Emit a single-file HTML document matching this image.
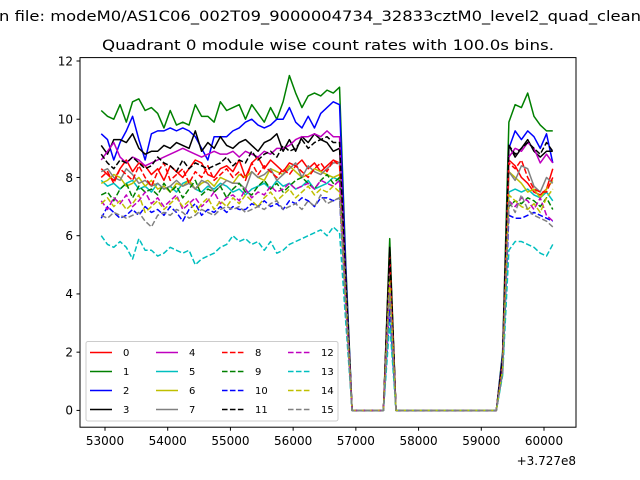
<!DOCTYPE html>
<html><head><meta charset="utf-8"><style>
html,body{margin:0;padding:0;background:#fff;}
svg{display:block;font-family:"DejaVu Sans","Liberation Sans",sans-serif;}
</style></head><body>
<svg id="chart" width="640" height="480" viewBox="0 0 640 480">
<text x="-1" y="21" font-size="14" textLength="642" lengthAdjust="spacingAndGlyphs">n file: modeM0/AS1C06_002T09_9000004734_32833cztM0_level2_quad_clean</text>
<text x="328" y="50" font-size="14" text-anchor="middle" textLength="452" lengthAdjust="spacingAndGlyphs">Quadrant 0 module wise count rates with 100.0s bins.</text>
<clipPath id="clip"><rect x="80" y="57.6" width="496" height="369.6"/></clipPath>
<g id="series" clip-path="url(#clip)"></g>
<rect x="80" y="57.6" width="496" height="369.6" fill="none" stroke="#000" stroke-width="1"/>
<g id="axes"></g>
<text x="576" y="465" font-size="12" text-anchor="end">+3.727e8</text>
<g id="legend"></g>
</svg>
<script>
const startTime = 52940;
const stepTime = 100;
const xTicks = [53000,54000,55000,56000,57000,58000,59000,60000];
const yTicks = [0,2,4,6,8,10,12];
const seriesNames = ["0","1","2","3","4","5","6","7","8","9","10","11","12","13","14","15"];
const Z = [0,0,0,0,0,0];
const Z17 = [0,0,0,0,0,0,0,0,0,0,0,0,0,0,0,0,0];
const s0 = [8.3,8.1,7.9,8.3,8.6,8.2,8.5,8.4,8.1,8.3,7.9,8.4,8.2,8.0,8.3,8.6,8.5,8.1,8.0,8.3,8.4,8.2,8.6,8.0,8.5,8.7,8.3,8.6,8.4,8.2,8.5,8.4,8.6,8.3,8.5,8.2,8.4,8.6,8.5, 4.2,...Z,5.6,...Z17,1.6, 8.6,8.4,8.0,7.8,7.5,7.4,7.6,8.3];
const s1 = [10.3,10.1,10.0,10.5,9.9,10.6,10.7,10.3,10.4,10.2,9.7,10.3,9.8,9.9,9.8,10.5,10.1,10.1,9.9,10.6,10.3,10.4,10.5,10.0,10.5,10.2,9.9,10.4,10.0,10.6,11.5,10.9,10.4,10.8,10.9,10.8,11.0,10.9,11.1, 5.0,...Z,5.9,...Z17,2.0, 9.9,10.5,10.4,10.9,10.1,9.8,9.6,9.6];
const s2 = [9.5,9.3,8.6,9.2,9.6,10.1,9.3,8.6,9.5,9.6,9.6,9.7,9.6,9.7,9.6,9.4,9.0,8.6,9.4,9.4,9.4,9.6,9.7,9.9,10.0,9.8,9.7,9.8,10.0,10.0,10.4,9.9,9.7,10.1,9.7,10.2,10.4,10.6,10.5, 4.8,...Z,5.2,...Z17,1.9, 9.0,9.6,9.3,9.6,9.4,9.0,9.5,8.5];
const s3 = [9.1,8.8,9.3,9.3,9.2,9.5,9.0,8.8,8.9,8.9,9.1,9.0,9.2,9.1,9.0,9.6,8.9,9.2,9.0,9.4,9.1,9.0,9.2,9.3,9.1,8.9,9.2,9.3,9.5,8.9,9.3,8.9,9.4,9.2,9.5,9.3,9.2,8.9,9.0, 4.5,...Z,5.6,...Z17,1.8, 9.1,8.7,9.0,9.3,8.9,8.7,8.9,8.9];
const s4 = [8.6,8.9,9.2,8.7,8.5,8.7,8.6,8.4,8.5,8.6,8.7,8.8,8.9,9.0,8.9,8.8,8.7,8.8,8.9,8.8,8.8,8.9,8.7,8.9,8.8,8.7,8.9,8.8,9.0,9.0,9.1,9.3,9.4,9.4,9.5,9.4,9.6,9.4,9.4, 4.3,...Z,5.0,...Z17,1.7, 8.7,9.0,8.9,9.2,9.0,8.5,8.8,8.5];
const s5 = [7.9,7.7,7.8,7.6,7.8,7.9,7.6,7.7,7.5,7.8,7.6,7.7,7.5,7.8,7.9,7.6,7.5,7.7,7.6,7.8,7.7,7.5,7.6,7.4,7.6,7.7,7.8,7.6,7.9,7.7,7.8,7.6,7.7,7.9,7.6,7.7,7.8,8.0,7.9, 3.9,...Z,4.3,...Z17,1.5, 7.5,7.6,7.5,7.6,7.4,7.3,7.5,7.2];
const s6 = [7.8,7.9,8.1,8.0,7.7,7.8,8.0,7.7,7.9,7.6,7.7,7.5,7.8,7.7,7.9,7.6,7.8,7.9,7.7,8.0,7.9,7.8,8.1,8.0,8.2,8.0,7.9,8.3,8.2,8.1,8.4,8.2,8.0,8.1,8.3,8.2,8.1,8.0,8.1, 4.0,...Z,4.6,...Z17,1.6, 8.2,8.0,7.8,7.5,7.6,7.3,7.6,7.9];
const s7 = [8.2,8.3,8.0,7.9,8.3,8.1,7.8,7.9,7.7,7.8,7.6,7.7,7.9,7.7,7.8,7.6,7.9,7.8,7.5,7.7,7.9,7.8,7.8,7.6,8.2,8.0,8.1,8.3,7.9,8.1,8.3,8.5,8.0,8.4,8.2,8.1,8.3,8.5,8.5, 4.1,...Z,4.8,...Z17,1.6, 8.2,7.9,8.4,8.3,7.7,7.5,8.0,7.8];
const s8 = [8.0,8.2,7.8,8.3,8.1,7.9,8.4,8.0,7.7,8.2,8.5,7.9,8.1,8.3,7.8,8.2,8.0,8.4,7.9,8.1,8.3,8.0,8.2,7.9,8.5,8.1,8.4,8.2,8.0,8.3,8.1,8.4,8.2,8.0,8.3,8.5,8.2,8.6,8.4, 4.1,...Z,5.3,...Z17,1.6, 8.5,8.3,8.6,8.0,7.6,7.5,7.5,8.0];
const s9 = [7.4,7.5,7.2,7.6,7.8,7.3,7.7,7.5,7.6,7.4,7.8,7.5,7.7,7.3,7.6,7.9,7.4,7.6,7.5,7.7,7.3,7.6,7.8,7.5,7.4,7.7,7.9,7.6,7.8,7.5,7.7,7.9,8.0,7.8,7.6,7.9,8.1,7.8,8.0, 3.8,...Z,4.5,...Z17,1.5, 7.0,7.2,7.1,7.3,7.2,7.0,7.3,6.9];
const s10 = [6.6,7.0,6.8,6.6,6.7,6.9,6.7,7.0,6.8,6.9,6.7,7.0,6.8,6.5,6.9,7.1,6.7,6.9,6.8,7.0,6.8,7.0,6.9,6.9,7.1,7.0,7.2,7.0,7.1,6.9,7.2,7.1,7.3,7.2,7.0,7.3,7.3,7.2,7.3, 3.5,...Z,3.5,...Z17,1.3, 6.7,6.6,6.6,6.7,6.8,6.7,6.6,6.5];
const s11 = [8.8,8.5,8.3,8.6,8.5,8.7,8.5,8.3,8.4,8.7,8.5,8.4,8.2,8.6,8.3,8.5,8.4,8.3,8.4,8.5,8.7,8.4,8.6,8.5,8.9,8.6,8.8,8.9,8.7,9.1,8.9,9.0,9.3,9.0,9.2,9.3,9.4,9.2,9.2, 4.4,...Z,5.5,...Z17,1.7, 9.1,8.8,9.0,9.2,9.0,8.8,9.2,8.9];
const s12 = [7.2,6.9,7.3,7.1,7.4,7.0,7.2,7.5,7.1,7.3,7.0,7.2,7.4,6.9,7.1,7.3,7.0,7.2,7.5,7.1,7.3,7.4,7.2,7.6,7.3,7.5,7.4,7.7,7.5,7.6,7.8,7.6,7.7,7.8,7.6,7.9,7.8,7.7,7.9, 3.7,...Z,4.4,...Z17,1.4, 7.2,7.0,7.3,7.2,6.9,7.3,6.7,6.5];
const s13 = [6.0,5.7,5.6,5.8,5.6,5.2,5.9,5.5,5.5,5.3,5.4,5.6,5.5,5.4,5.5,5.0,5.2,5.3,5.4,5.6,5.7,6.0,5.8,5.9,5.7,5.8,5.5,5.8,5.4,5.5,5.7,5.8,5.9,6.0,6.1,6.2,6.0,6.3,6.1, 3.0,...Z,3.0,...Z17,1.2, 5.5,5.8,5.8,5.7,5.6,5.4,5.3,5.7];
const s14 = [7.1,7.3,7.0,7.2,6.9,7.1,7.4,6.8,7.0,7.2,6.9,7.1,7.3,7.0,7.2,6.8,7.1,7.3,6.9,7.2,7.0,7.3,7.1,7.4,7.2,7.0,7.3,7.5,7.2,7.4,7.6,7.3,7.5,7.7,7.4,7.6,7.5,7.7,7.5, 3.7,...Z,4.4,...Z17,1.4, 7.4,7.2,7.0,6.9,7.1,6.8,7.3,7.6];
const s15 = [6.7,6.6,6.8,6.7,6.6,6.7,6.8,6.5,6.3,6.7,6.8,6.7,6.9,6.8,6.6,6.7,6.9,6.8,6.7,6.9,7.0,6.9,7.0,6.8,6.9,7.0,6.9,7.1,7.2,6.9,7.0,7.1,6.9,7.2,7.0,7.4,7.1,7.2,7.3, 3.5,...Z,4.0,...Z17,1.3, 7.2,6.8,7.4,6.9,6.7,6.6,6.5,6.3];
const allSeries = [s0,s1,s2,s3,s4,s5,s6,s7,s8,s9,s10,s11,s12,s13,s14,s15];
const colors = ["#ff0000","#008000","#0000ff","#000000","#bf00bf","#00bfbf","#bfbf00","#808080"];

const NS = "http://www.w3.org/2000/svg";
const X0 = 53000, X1 = 60000, PX0 = 105, PX1 = 544;
const xs = t => PX0 + (t - X0) * (PX1 - PX0) / (X1 - X0);
const ys = v => 410.4 - v * (410.4 - 61.0) / 12;

const sg = document.getElementById("series");
allSeries.forEach((arr, k) => {
  const pts = arr.map((v, i) => xs(startTime + stepTime * i).toFixed(2) + "," + ys(v).toFixed(2)).join(" ");
  const pl = document.createElementNS(NS, "polyline");
  pl.setAttribute("points", pts);
  pl.setAttribute("fill", "none");
  pl.setAttribute("stroke", colors[k % 8]);
  pl.setAttribute("stroke-width", "1.5");
  pl.setAttribute("stroke-linejoin", "round");
  if (k >= 8) pl.setAttribute("stroke-dasharray", "5.55,2.4");
  
  
  sg.appendChild(pl);
});

const ax = document.getElementById("axes");
xTicks.forEach(t => {
  const x = xs(t);
  const l = document.createElementNS(NS, "line");
  l.setAttribute("x1", x); l.setAttribute("x2", x);
  l.setAttribute("y1", 427.2); l.setAttribute("y2", 430.7);
  l.setAttribute("stroke", "#000");
  
  
  ax.appendChild(l);
  const tx = document.createElementNS(NS, "text");
  tx.setAttribute("x", x); tx.setAttribute("y", 445);
  tx.setAttribute("font-size", "12"); tx.setAttribute("text-anchor", "middle");
  tx.textContent = String(t);
  
  
  ax.appendChild(tx);
});
yTicks.forEach(v => {
  const y = ys(v);
  const l = document.createElementNS(NS, "line");
  l.setAttribute("x1", 76.5); l.setAttribute("x2", 80);
  l.setAttribute("y1", y); l.setAttribute("y2", y);
  l.setAttribute("stroke", "#000");
  
  
  ax.appendChild(l);
  const tx = document.createElementNS(NS, "text");
  tx.setAttribute("x", 73); tx.setAttribute("y", y + 4.3);
  tx.setAttribute("font-size", "12"); tx.setAttribute("text-anchor", "end");
  tx.textContent = String(v);
  
  
  ax.appendChild(tx);
});

const lg = document.getElementById("legend");
const box = document.createElementNS(NS, "rect");
box.setAttribute("x", 86); box.setAttribute("y", 341.5);
box.setAttribute("width", 252); box.setAttribute("height", 79.5);
box.setAttribute("rx", 2); box.setAttribute("fill", "#fff");
box.setAttribute("fill-opacity", "0.8"); box.setAttribute("stroke", "#ccc");


lg.appendChild(box);
const colX = [90, 156, 222, 288];
seriesNames.forEach((nm, k) => {
  const c = Math.floor(k / 4), r = k % 4;
  const x = colX[c], y = 352.5 + r * 19;
  const l = document.createElementNS(NS, "line");
  l.setAttribute("x1", x); l.setAttribute("x2", x + 22);
  l.setAttribute("y1", y); l.setAttribute("y2", y);
  l.setAttribute("stroke", colors[k % 8]); l.setAttribute("stroke-width", "1.5");
  if (k >= 8) l.setAttribute("stroke-dasharray", "5.55,2.4");
  
  
  lg.appendChild(l);
  const tx = document.createElementNS(NS, "text");
  tx.setAttribute("x", x + 33); tx.setAttribute("y", y + 3.5);
  tx.setAttribute("font-size", "10");
  tx.textContent = nm;
  
  
  lg.appendChild(tx);
});
</script>
</body></html>
